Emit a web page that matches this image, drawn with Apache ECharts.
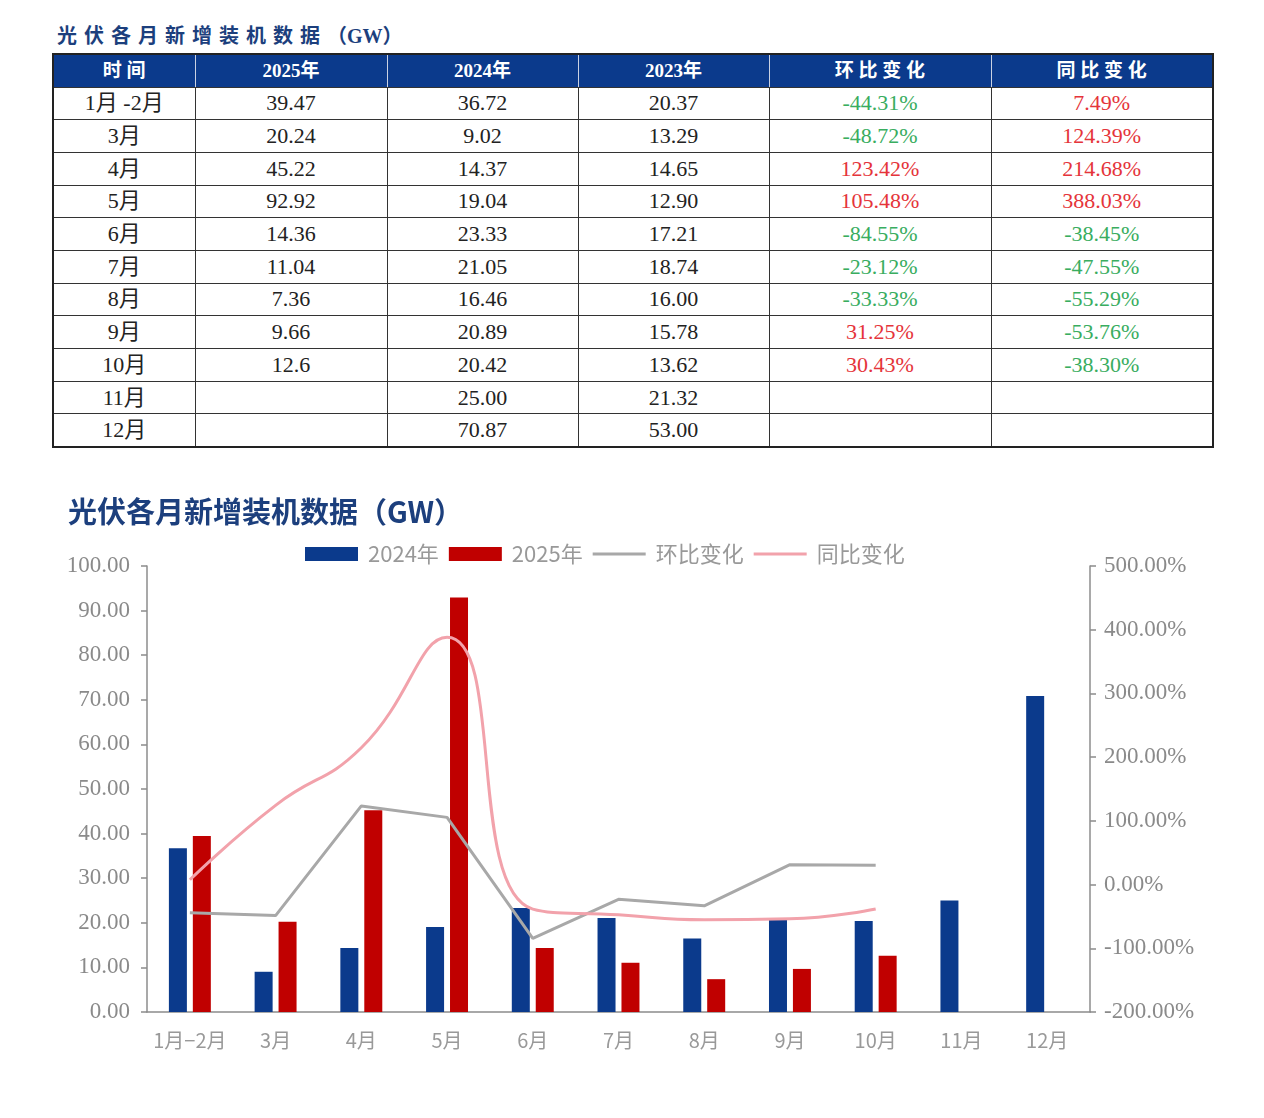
<!DOCTYPE html>
<html><head><meta charset="utf-8">
<script src="https://cdn.jsdelivr.net/npm/echarts@6/dist/echarts.min.js"></script>
<style>
body{margin:0;background:#fff;width:1264px;height:1118px;position:relative;overflow:hidden;}
#ttl{position:absolute;left:57px;top:22px;font-weight:bold;font-size:20px;font-family:"Liberation Serif","Noto Sans CJK SC";color:#1c3f7d;letter-spacing:7px;line-height:28px;}
#ttl span{letter-spacing:0;}
table{position:absolute;left:52px;top:53px;border-collapse:collapse;table-layout:fixed;border:2px solid #222;}
td,th{border:1.5px solid #333;text-align:center;padding:0;font-family:"Liberation Serif","Noto Sans CJK SC";font-size:22px;color:#222;line-height:26px;}
th{background:#0b3a8c;color:#fff;font-weight:bold;font-size:19px;border-top:none;border-bottom:1.5px solid #333;border-left:1.5px solid #c9d1e3;border-right:1.5px solid #c9d1e3;}
tr{height:32.7px;}
tr.h{height:33px;}
.g{color:#39ad5f;}
.r{color:#e5343a;}
#chart{position:absolute;left:0;top:460px;width:1264px;height:658px;}
</style>
</head><body>
<div id="ttl">光伏各月新增装机数据<span>（GW）</span></div>
<table id="tbl">
<colgroup><col style="width:142px"><col style="width:192px"><col style="width:191px"><col style="width:191px"><col style="width:222px"><col style="width:222px"></colgroup>
<tbody id="tb"></tbody>
</table>
<div id="chart"></div>
<script>
// ---- data ----
const tableHeaders = ['时 间', '2025年', '2024年', '2023年', '环 比 变 化', '同 比 变 化'];
const tableMonths = ['1月 -2月', '3月', '4月', '5月', '6月', '7月', '8月', '9月', '10月', '11月', '12月'];
const categories = ['1月−2月', '3月', '4月', '5月', '6月', '7月', '8月', '9月', '10月', '11月', '12月'];
const v2025 = [39.47, 20.24, 45.22, 92.92, 14.36, 11.04, 7.36, 9.66, 12.6, null, null];
const v2024 = [36.72, 9.02, 14.37, 19.04, 23.33, 21.05, 16.46, 20.89, 20.42, 25.00, 70.87];
const v2023 = [20.37, 13.29, 14.65, 12.90, 17.21, 18.74, 16.00, 15.78, 13.62, 21.32, 53.00];
const mom = [-44.31, -48.72, 123.42, 105.48, -84.55, -23.12, -33.33, 31.25, 30.43, null, null];
const yoy = [7.49, 124.39, 214.68, 388.03, -38.45, -47.55, -55.29, -53.76, -38.30, null, null];
const leftTicks = {min: 0, max: 100, interval: 10};
const rightTicks = {min: -200, max: 500, interval: 100};

// ---- table ----
const tb = document.getElementById('tb');
let html = '<tr class="h">' + tableHeaders.map(h => '<th>' + h + '</th>').join('') + '</tr>';
function fmt2(v){ return v == null ? '' : v.toFixed(2); }
function pct(v){ return v == null ? '' : '<span class="' + (v < 0 ? 'g' : 'r') + '">' + v.toFixed(2) + '%</span>'; }
for (let i = 0; i < tableMonths.length; i++) {
  const a = v2025[i] == null ? '' : (v2025[i] === 12.6 ? '12.6' : v2025[i].toFixed(2));
  html += '<tr><td>' + tableMonths[i] + '</td><td>' + a + '</td><td>' + fmt2(v2024[i]) + '</td><td>' + fmt2(v2023[i]) +
    '</td><td>' + pct(mom[i]) + '</td><td>' + pct(yoy[i]) + '</td></tr>';
}
tb.innerHTML = html;

// ---- chart ----
const chart = echarts.init(document.getElementById('chart'));
const axisCol = '#8c8c8c';
const lineIcon = 'path://M0,0L0.01,0M0,14L0.01,14M0,5.5L53,5.5L53,8.5L0,8.5Z';
chart.setOption({
  animation: false,
  title: {
    text: '光伏各月新增装机数据（GW）', left: 63, top: 32,
    textStyle: {fontSize: 29, fontWeight: 'bold', color: '#1c3f7d', fontFamily: 'Noto Sans CJK SC'}
  },
  legend: {
    left: 300, top: 78, itemWidth: 53, itemHeight: 14, itemGap: 10,
    textStyle: {fontSize: 22, color: '#999', fontFamily: 'Noto Sans CJK SC', padding: [0, 0, 0, 5]},
    data: [
      {name: '2024年', icon: 'rect'},
      {name: '2025年', icon: 'rect'},
      {name: '环比变化', icon: lineIcon},
      {name: '同比变化', icon: lineIcon}
    ]
  },
  grid: {left: 147, right: 174, top: 106, bottom: 106},
  xAxis: {
    type: 'category', data: categories,
    axisLine: {lineStyle: {color: axisCol, width: 1.5}},
    axisTick: {length: 8, lineStyle: {color: axisCol, width: 1.5}},
    axisLabel: {interval: 0, fontSize: 20, color: '#999', margin: 18, fontFamily: 'Noto Sans CJK SC'}
  },
  yAxis: [
    {
      type: 'value', min: leftTicks.min, max: leftTicks.max, interval: leftTicks.interval,
      axisLine: {show: true, lineStyle: {color: axisCol, width: 1.5}},
      axisTick: {show: true, length: 6, lineStyle: {color: axisCol, width: 1.5}},
      splitLine: {show: false},
      axisLabel: {formatter: v => v.toFixed(2), fontSize: 23, color: '#8a8a8a', fontFamily: 'Liberation Serif', margin: 17}
    },
    {
      type: 'value', min: rightTicks.min, max: rightTicks.max, interval: rightTicks.interval,
      axisLine: {show: true, lineStyle: {color: axisCol, width: 1.5}},
      axisTick: {show: true, length: 6, lineStyle: {color: axisCol, width: 1.5}},
      splitLine: {show: false},
      axisLabel: {formatter: v => v.toFixed(2) + '%', fontSize: 23, color: '#8a8a8a', fontFamily: 'Liberation Serif', margin: 14}
    }
  ],
  series: [
    {name: '2024年', type: 'bar', data: v2024, barWidth: 18, barGap: '33%', itemStyle: {color: '#0b3a8c'}},
    {name: '2025年', type: 'bar', data: v2025, barWidth: 18, itemStyle: {color: '#c00000'}},
    {name: '环比变化', type: 'line', yAxisIndex: 1, data: mom, symbol: 'none', lineStyle: {color: '#a8a8a8', width: 3}, itemStyle: {color: '#a8a8a8'}},
    {name: '同比变化', type: 'line', yAxisIndex: 1, data: yoy, smooth: true, symbol: 'none', lineStyle: {color: '#f2a2ab', width: 3}, itemStyle: {color: '#f2a2ab'}}
  ]
});
</script>
</body></html>
